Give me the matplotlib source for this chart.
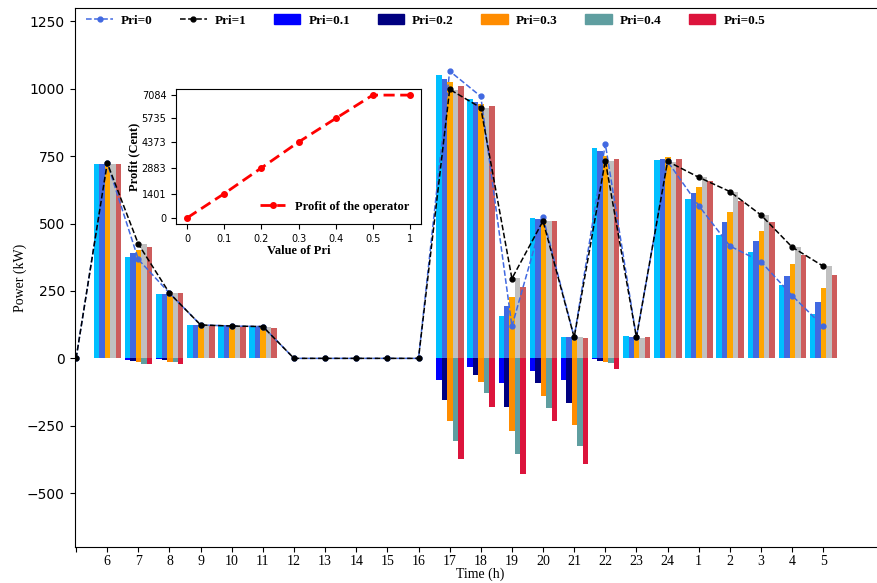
import numpy as np
from matplotlib import pyplot as plt
from matplotlib.patches import Patch
from matplotlib.lines import Line2D

hours = ['', '6', '7', '8', '9', '10', '11', '12', '13', '14', '15', '16', '17',
         '18', '19', '20', '21', '22', '23', '24', '1', '2', '3', '4', '5']

pri0_line = [0, 725, 367, 242, 124, 120, 118, 0, 0, 0, 0, 0, 1066, 972, 119, 524,
             78, 796, 78, 731, 567, 417, 359, 233, 119]
pri1_line = [0, 725, 424, 242, 124, 120, 118, 0, 0, 0, 0, 0, 998, 930, 296, 510,
             78, 734, 78, 731, 672, 619, 532, 413, 342]

# charging power (positive bars)
charge_01 = [2, 723, 375, 238, 124, 120, 116, 3, 0, 0, 0, 0, 1051, 962, 156, 520,
             78, 780, 82, 735, 591, 457, 395, 271, 165]
charge_02 = [2, 723, 390, 240, 124, 120, 116, 3, 0, 0, 0, 0, 1036, 951, 193, 516,
             78, 770, 78, 739, 613, 505, 435, 305, 208]
charge_03 = [2, 723, 402, 245, 124, 120, 116, 2, 0, 0, 0, 0, 1024, 943, 227, 512,
             78, 750, 78, 747, 635, 542, 472, 349, 260]
charge_04 = [3, 723, 423, 241, 124, 120, 116, 1, 0, 0, 0, 0, 996, 929, 297, 509,
             78, 733, 74, 727, 672, 617, 531, 412, 342]
charge_05 = [3, 723, 413, 241, 124, 120, 114, 1, 0, 0, 0, 2, 1010, 936, 264, 509,
             74, 739, 78, 739, 657, 583, 505, 385, 308]

# discharging power (negative bars)
dis_01 = [0, 0, -5, -3, 0, 0, 0, 0, 0, 0, 0, 0, -82, -32, -92, -47,
          -82, -3, 0, 0, 0, 0, 0, 0, 0]
dis_02 = [0, 0, -10, -5, 0, 0, 0, 0, 0, 0, 0, 0, -156, -63, -181, -92,
          -166, -8, 0, 0, 0, 0, 0, 0, 0]
dis_03 = [0, 0, -14, -12, 0, 0, 0, 0, 0, 0, 0, 0, -233, -88, -270, -140,
          -248, -14, 0, 0, 0, 0, 0, 0, 0]
dis_04 = [0, 0, -20, -14, 0, 0, 0, 0, 0, 0, 0, 0, -307, -129, -356, -185,
          -327, -17, 0, 0, 0, 0, 0, 0, 0]
dis_05 = [0, 0, -21, -20, 0, 0, 0, 0, 0, 0, 0, 0, -374, -181, -428, -233,
          -393, -40, 0, 0, 0, 0, 0, 0, 0]

pri_values = ['0', '0.1', '0.2', '0.3', '0.4', '0.5', '1']
profit = [0, 1401, 2883, 4373, 5735, 7084, 7084]

charge = [charge_01, charge_02, charge_03, charge_04, charge_05]
discharge = [dis_01, dis_02, dis_03, dis_04, dis_05]
charge_colors = ['deepskyblue', 'royalblue', 'orange', 'silver', 'indianred']
dis_colors = ['blue', 'navy', 'darkorange', 'cadetblue', 'crimson']
dis_labels = ['Pri=0.1', 'Pri=0.2', 'Pri=0.3', 'Pri=0.4', 'Pri=0.5']

serif = 'Liberation Serif'

fig = plt.figure(figsize=(8.78, 5.83), dpi=100)
ax = fig.add_axes([0.0849, 0.0617, 0.9236, 0.9246])

x = np.arange(len(hours))
w = 0.176
for i in range(5):
    ax.bar(x + (i - 2) * w + 0.01, charge[i], w, color=charge_colors[i])
    ax.bar(x + (i - 2) * w + 0.01, discharge[i], w, color=dis_colors[i])

ax.plot(x, pri0_line, '--', color='royalblue', marker='o', ms=3.5, lw=1.1)
ax.plot(x, pri1_line, '--', color='black', marker='o', ms=3.5, lw=1.1)

ax.spines['right'].set_visible(False)
ax.set_xlim(-0.05, 26.0)
ax.set_ylim(-700, 1300)
ax.set_xticks(x)
ax.set_xticklabels(hours, family=serif, fontsize=10)
ax.set_yticks([-500, -250, 0, 250, 500, 750, 1000, 1250])
ax.tick_params(axis='y', labelsize=10)
ax.tick_params(axis='x', pad=2)
ax.set_xlabel('Time (h)', family=serif, fontsize=10, labelpad=0)
ax.set_ylabel('Power (kW)', family=serif, fontsize=10, labelpad=0)

handles = [Line2D([], [], ls='--', color='royalblue', marker='o', ms=3.5, lw=1.1),
           Line2D([], [], ls='--', color='black', marker='o', ms=3.5, lw=1.1)]
handles += [Patch(color=c) for c in dis_colors]
ax.legend(handles, ['Pri=0', 'Pri=1'] + dis_labels, ncol=7, loc='upper left',
          bbox_to_anchor=(0.0, 1.01), frameon=False, columnspacing=2.1,
          handletextpad=0.6,
          prop={'family': serif, 'weight': 'bold', 'size': 9.5})

# inset with the operator profit
ins = fig.add_axes([0.2005, 0.6158, 0.279, 0.2316])
ins.plot(range(len(pri_values)), profit, '--', color='red', marker='o', ms=4,
         lw=2, dashes=(4, 2), label='Profit of the operator')
ins.set_xticks(range(len(pri_values)))
ins.set_xticklabels(pri_values)
ins.set_yticks(profit[:6])
ins.tick_params(labelsize=7)
ins.set_xlabel('Value of Pri', family=serif, weight='bold', fontsize=9, labelpad=1)
ins.set_ylabel('Profit (Cent)', family=serif, weight='bold', fontsize=9, labelpad=1)
ins.legend(loc='lower right', frameon=False,
           prop={'family': serif, 'weight': 'bold', 'size': 9})

fig.savefig('out.png', dpi=100)
